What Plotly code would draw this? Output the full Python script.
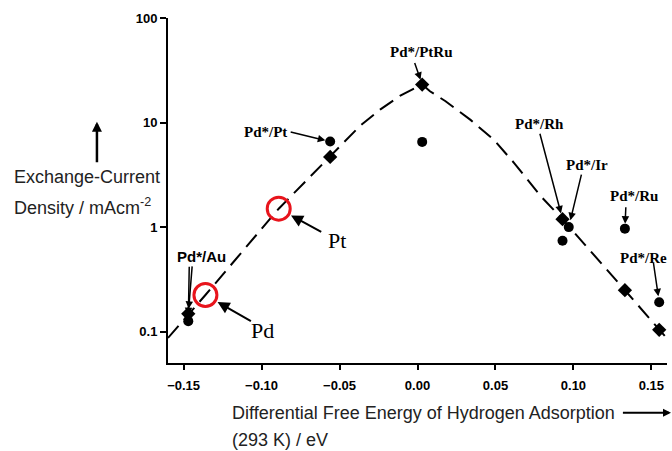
import numpy as np
import plotly.graph_objects as go

# ---- data ----
curve_x = [-0.160, -0.136, -0.089, -0.056, -0.037, -0.024, -0.011, 0.003, 0.008,
           0.018, 0.028, 0.034, 0.049, 0.062, 0.079, 0.093, 0.133, 0.155, 0.159]
curve_y = [0.087, 0.224, 1.50, 4.69, 9.25, 13.3, 18.1, 23.1, 19.9,
           16.0, 12.4, 10.6, 6.82, 4.1, 1.98, 1.19, 0.249, 0.104, 0.0895]

dia_x = [-0.147, -0.056, 0.003, 0.093, 0.133, 0.155]
dia_y = [0.148, 4.69, 23.1, 1.19, 0.249, 0.104]

cir_x = [-0.147, -0.056, 0.003, 0.097, 0.093, 0.133, 0.155]
cir_y = [0.126, 6.58, 6.53, 1.00, 0.74, 0.966, 0.191]

ref_x = [-0.136, -0.089]
ref_y = [0.224, 1.50]
ref_names = ["Pd", "Pt"]

x_ticks = [-0.15, -0.10, -0.05, 0.00, 0.05, 0.10, 0.15]
y_ticks = [0.1, 1, 10, 100]
y_ticktext = ["0.1", "1", "10", "100"]

cat_labels = ["Pd*/Au", "Pd*/Pt", "Pd*/PtRu", "Pd*/Rh", "Pd*/Ir", "Pd*/Ru", "Pd*/Re"]

# ---- figure ----
fig = go.Figure()
fig.add_trace(go.Scatter(x=curve_x, y=curve_y, mode="lines",
                         line=dict(color="black", width=2, dash="16px,8px"),
                         hoverinfo="skip", showlegend=False))
fig.add_trace(go.Scatter(x=cir_x, y=cir_y, mode="markers",
                         marker=dict(symbol="circle", size=10, color="black"),
                         showlegend=False))
fig.add_trace(go.Scatter(x=dia_x, y=dia_y, mode="markers",
                         marker=dict(symbol="diamond", size=11, color="black"),
                         showlegend=False))
fig.add_trace(go.Scatter(x=ref_x, y=ref_y, mode="markers",
                         marker=dict(symbol="circle", size=23, color="rgba(0,0,0,0)",
                                     line=dict(color="#e8141c", width=3)),
                         showlegend=False))

serif = dict(family="Liberation Serif", size=15, color="black", weight="bold")
sans_b = dict(family="Liberation Sans", size=15, color="black", weight="bold")

def pt(series, i):
    if series == "dia":
        return dia_x[i], np.log10(dia_y[i])
    if series == "cir":
        return cir_x[i], np.log10(cir_y[i])
    return ref_x[i], np.log10(ref_y[i])

anns = []
def arrow(series, i, ax, ay, standoff, width=1.5, size=1.0, head=2):
    x, y = pt(series, i)
    anns.append(dict(x=x, y=y, xref="x", yref="y", text="", showarrow=True,
                     ax=ax, ay=ay, axref="pixel", ayref="pixel",
                     arrowhead=head, arrowsize=size, arrowwidth=width,
                     arrowcolor="black", standoff=standoff))

def label(series, i, text, xs, ys, font):
    x, y = pt(series, i)
    anns.append(dict(x=x, y=y, xref="x", yref="y", text=text, showarrow=False,
                     xshift=xs, yshift=ys, font=font))

label("dia", 0, cat_labels[0], 13, 57, sans_b)
arrow("dia", 0, 4, -49, 5)
arrow("cir", 0, 1, -56, 6)
label("cir", 1, cat_labels[1], -65, 10, serif)
arrow("cir", 1, -41, -10, 5)
label("dia", 2, cat_labels[2], -1, 33, serif)
arrow("dia", 2, -8, -23, 5)
label("dia", 3, cat_labels[3], -23, 95, serif)
arrow("dia", 3, -23, -87, 6)
label("cir", 3, cat_labels[4], 18, 62, serif)
arrow("cir", 3, 13, -54, 7)
label("cir", 5, cat_labels[5], 9, 33, serif)
arrow("cir", 5, 1, -23, 5)
label("cir", 6, cat_labels[6], -16, 44, serif)
arrow("cir", 6, -6, -41, 6)
big = dict(family="Liberation Serif", size=22, color="black")
label("ref", 1, ref_names[1], 58, -32, big)
arrow("ref", 1, 44, 24, 14, width=2, size=1.2)
label("ref", 0, ref_names[0], 57, -35, big)
arrow("ref", 0, 47, 27, 14, width=2, size=1.2)

# axis titles (paper coords derived from plot box l=168, w=498.6, b=363.2, h=344.9)
L, W, B, H = 168.0, 498.6, 363.2, 344.9
def px(xp): return (xp - L) / W
def py(yp): return (B - yp) / H
tfont = dict(family="Liberation Sans", size=18, color="#222222")
anns.append(dict(x=px(230), y=py(413), xref="paper", yref="paper", xanchor="left",
                 yanchor="middle", text="Differential Free Energy of Hydrogen Adsorption",
                 showarrow=False, font=tfont))
anns.append(dict(x=px(230), y=py(440), xref="paper", yref="paper", xanchor="left",
                 yanchor="middle", text="(293 K) / eV", showarrow=False, font=tfont))
anns.append(dict(x=px(671), y=py(413), xref="paper", yref="paper", text="", showarrow=True,
                 ax=-50, ay=0, arrowhead=2, arrowsize=0.8, arrowwidth=2, arrowcolor="black"))
anns.append(dict(x=px(12), y=py(177), xref="paper", yref="paper", xanchor="left",
                 yanchor="middle", text="Exchange-Current", showarrow=False, font=tfont))
anns.append(dict(x=px(12), y=py(207), xref="paper", yref="paper", xanchor="left",
                 yanchor="middle", text="Density / mAcm<sup>-2</sup>", showarrow=False, font=tfont))
anns.append(dict(x=px(97), y=py(122), xref="paper", yref="paper", text="", showarrow=True,
                 ax=0, ay=42, arrowhead=2, arrowsize=0.8, arrowwidth=2.5, arrowcolor="black"))

tickfont = dict(family="Liberation Sans", size=13, color="black", weight="bold")
fig.update_layout(
    width=672, height=451,
    margin=dict(l=168, r=5, t=18, b=88),
    paper_bgcolor="white", plot_bgcolor="white",
    showlegend=False,
    annotations=anns,
    xaxis=dict(range=[-0.16, 0.16], tickvals=x_ticks, tickformat=".2f",
               showline=True, linecolor="black", linewidth=2, ticks="outside",
               ticklen=5, tickwidth=2, tickcolor="black", showgrid=False, zeroline=False,
               tickfont=tickfont, ticklabelstandoff=4),
    yaxis=dict(type="log", range=[-1.3, 2], tickvals=y_ticks, ticktext=y_ticktext,
               showline=True, linecolor="black", linewidth=2, ticks="outside",
               ticklen=6, tickwidth=2, tickcolor="black", showgrid=False, zeroline=False,
               tickfont=tickfont),
)

fig.write_html("out.html")
